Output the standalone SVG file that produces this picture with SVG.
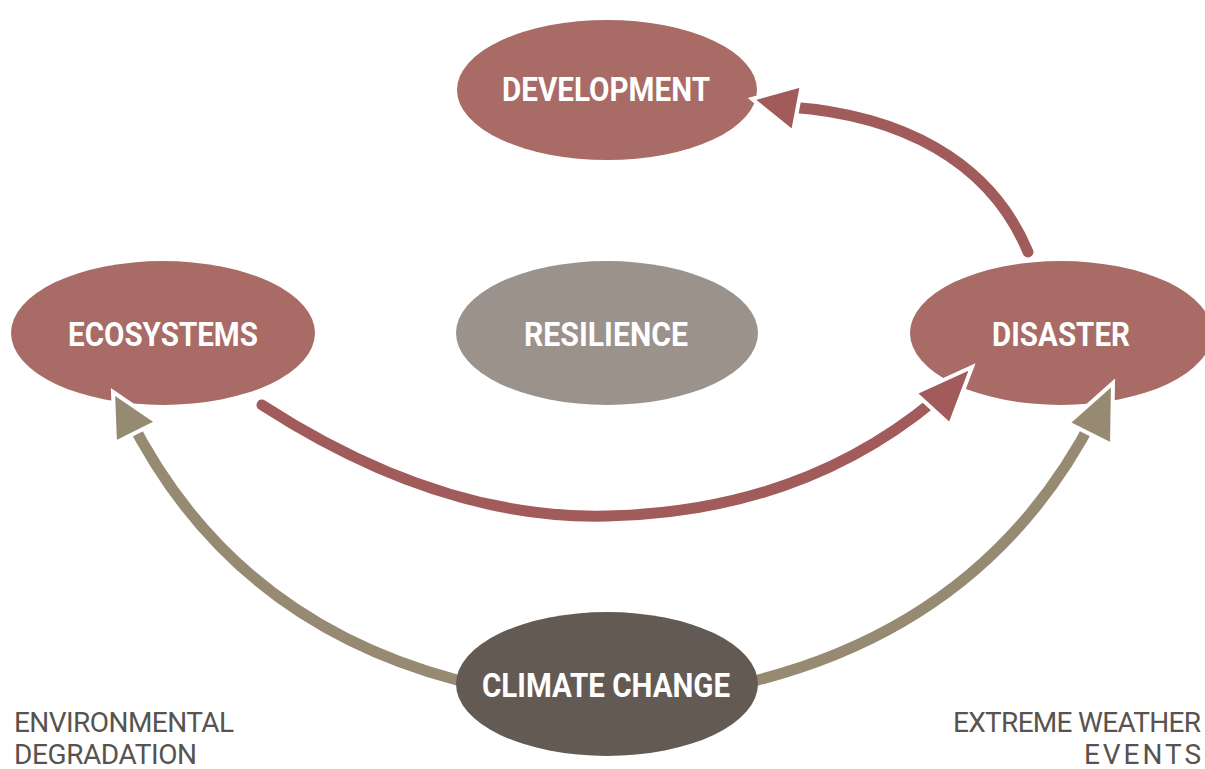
<svg xmlns="http://www.w3.org/2000/svg" width="1205" height="769" viewBox="0 0 1205 769">
<style>
.red{fill:#a86b65}
.lbl{font-family:"Roboto","Liberation Sans",sans-serif;font-weight:bold;font-size:33px;fill:#ffffff;text-anchor:middle}
.cap{font-family:"Roboto","Liberation Sans",sans-serif;font-size:28px;fill:#58534e}
.lr{fill:none;stroke:#a15b5b;stroke-width:11;stroke-linecap:round}
.lt{fill:none;stroke:#978a72;stroke-width:11;stroke-linecap:round}
.hr{fill:#a15b5b;stroke:#ffffff;stroke-width:4;stroke-linejoin:miter}
.ht{fill:#978a72;stroke:#ffffff;stroke-width:4;stroke-linejoin:miter}
</style>
<rect width="1205" height="769" fill="#ffffff"/>
<g id="connectors">
<path class="lr" d="M1028,252 C990,160 900,115 790,107"/>
<path class="lr" d="M262,405 Q440,520 607,516 Q800,512 935,400"/>
<path class="lt" d="M457,680 Q230,620 128,415"/>
<path class="lt" d="M758,680 Q990,620 1095,415"/>
</g>
<g id="development"><ellipse class="red" cx="607" cy="90" rx="150" ry="70"/><text class="lbl" x="606" y="101" textLength="208" lengthAdjust="spacingAndGlyphs">DEVELOPMENT</text></g>
<g id="ecosystems"><ellipse class="red" cx="163" cy="333" rx="152" ry="72"/><text class="lbl" x="163" y="346" textLength="190" lengthAdjust="spacingAndGlyphs">ECOSYSTEMS</text></g>
<g id="resilience"><ellipse cx="607" cy="333" rx="151" ry="72" fill="#9b928c"/><text class="lbl" x="606" y="346" textLength="164" lengthAdjust="spacingAndGlyphs">RESILIENCE</text></g>
<g id="disaster"><ellipse class="red" cx="1061" cy="333" rx="151" ry="72"/><text class="lbl" x="1061" y="346" textLength="138" lengthAdjust="spacingAndGlyphs">DISASTER</text></g>
<g id="climate-change"><ellipse cx="607" cy="684" rx="151" ry="72" fill="#635b53"/><text class="lbl" x="606" y="697" textLength="248" lengthAdjust="spacingAndGlyphs">CLIMATE CHANGE</text></g>
<g id="arrowheads">
<polygon class="hr" points="752,99 802,85 793,132"/>
<polygon class="hr" points="972,367 915,393 950,425"/>
<polygon class="ht" points="113,392 157,422 115,443"/>
<polygon class="ht" points="1113,383 1068,423 1112,445"/>
</g>
<g id="captions">
<text class="cap" x="14" y="732" textLength="220" lengthAdjust="spacing">ENVIRONMENTAL</text>
<text class="cap" x="14" y="764" textLength="183" lengthAdjust="spacing">DEGRADATION</text>
<text class="cap" x="1201" y="732" text-anchor="end" textLength="248" lengthAdjust="spacing">EXTREME WEATHER</text>
<text class="cap" x="1201" y="764" text-anchor="end" textLength="117" lengthAdjust="spacing">EVENTS</text>
</g>
</svg>
